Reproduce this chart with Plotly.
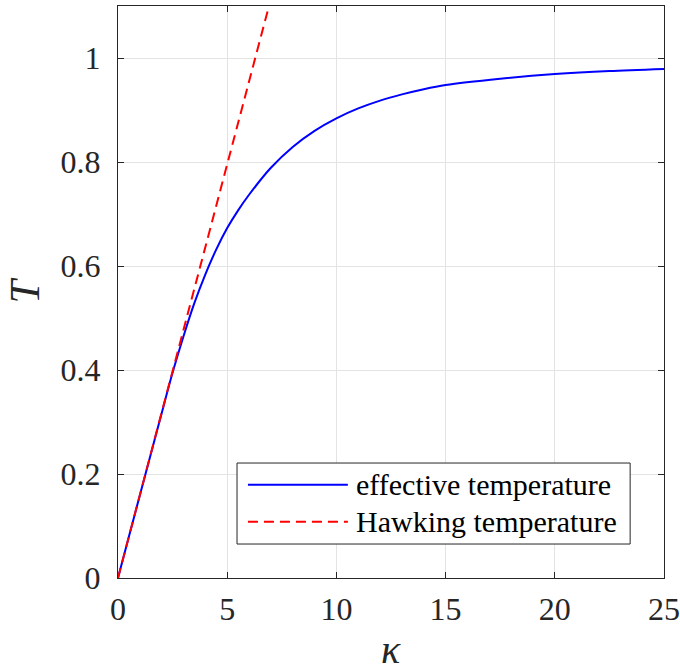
import plotly.graph_objects as go

# Effective temperature curve
kappa_eff = [0, 0.5, 1, 1.5, 2, 2.5, 3, 3.5, 4, 4.5, 5, 5.5, 6, 7, 8, 9, 10,
             11, 12, 13, 14, 15, 17.5, 20, 22.5, 25]
T_eff = [0, 0.080, 0.159, 0.238, 0.317, 0.395, 0.465, 0.529, 0.584, 0.632,
         0.673, 0.707, 0.737, 0.789, 0.829, 0.860, 0.884, 0.903, 0.918, 0.930,
         0.940, 0.948, 0.960, 0.969, 0.975, 0.979]

# Hawking temperature (straight line, read endpoints)
kappa_hawk = [0, 6.85]
T_hawk = [0, 1.09]

x_ticks = [0, 5, 10, 15, 20, 25]
y_ticks = [0, 0.2, 0.4, 0.6, 0.8, 1]
y_tick_text = ["0", "0.2", "0.4", "0.6", "0.8", "1"]

series_names = ["effective temperature", "Hawking temperature"]
series_colors = ["#0000ff", "#ff0000"]

FONT = "Liberation Serif, Times New Roman, serif"
AX = "#262626"

fig = go.Figure()
fig.add_trace(go.Scatter(x=kappa_eff, y=T_eff, mode="lines", name=series_names[0],
                         line=dict(color=series_colors[0], width=2, shape="spline", smoothing=0.8),
                         showlegend=False))
fig.add_trace(go.Scatter(x=kappa_hawk, y=T_hawk, mode="lines", name=series_names[1],
                         line=dict(color=series_colors[1], width=2, dash="10px,6px"),
                         showlegend=False))

axis_common = dict(
    showline=True, linecolor=AX, linewidth=1, mirror="ticks", automargin=False,
    ticks="inside", ticklen=6, tickcolor=AX, tickwidth=1,
    showgrid=True, gridcolor="#e3e3e3", gridwidth=1, zeroline=False,
    tickfont=dict(family=FONT, size=32, color=AX),
)

fig.update_layout(
    width=680, height=666,
    margin=dict(l=118, r=16, t=6, b=88),
    paper_bgcolor="white", plot_bgcolor="white",
    xaxis=dict(range=[0, 25], tickvals=x_ticks, ticklabelstandoff=3, **axis_common),
    yaxis=dict(range=[0, 1.1], tickvals=y_ticks, ticktext=y_tick_text, ticklabelstandoff=10,
               **axis_common),
)

# Axis titles
fig.add_annotation(xref="paper", yref="paper", x=0.5, y=-0.125, xanchor="center", yanchor="middle",
                   text="<i>κ</i>", showarrow=False, font=dict(family=FONT, size=40, color=AX))
fig.add_annotation(xref="paper", yref="paper", x=-0.1694, y=0.5017, xanchor="center", yanchor="middle",
                   text="<i>T</i>", textangle=-90, showarrow=False,
                   font=dict(family=FONT, size=42, color=AX))

# Custom legend (MATLAB-style box with long line samples)
fig.add_shape(type="rect", xref="paper", yref="paper", x0=0.218, x1=0.938, y0=0.0594, y1=0.201,
              line=dict(color=AX, width=1), fillcolor="white", layer="above")
legend_rows = [0.163, 0.0985]
dashes = ["solid", "10px,6px"]
for name, color, yy, d in zip(series_names, series_colors, legend_rows, dashes):
    fig.add_shape(type="line", xref="paper", yref="paper", x0=0.238, x1=0.421, y0=yy, y1=yy,
                  line=dict(color=color, width=2, dash=d), layer="above")
    fig.add_annotation(xref="paper", yref="paper", x=0.432, y=yy, xanchor="left", yanchor="middle",
                       text=name, showarrow=False, font=dict(family=FONT, size=30, color="black"))

fig.write_html("out.html", config={"displayModeBar": False},
               post_script="document.body.style.margin='0';document.body.style.overflow='hidden';")
